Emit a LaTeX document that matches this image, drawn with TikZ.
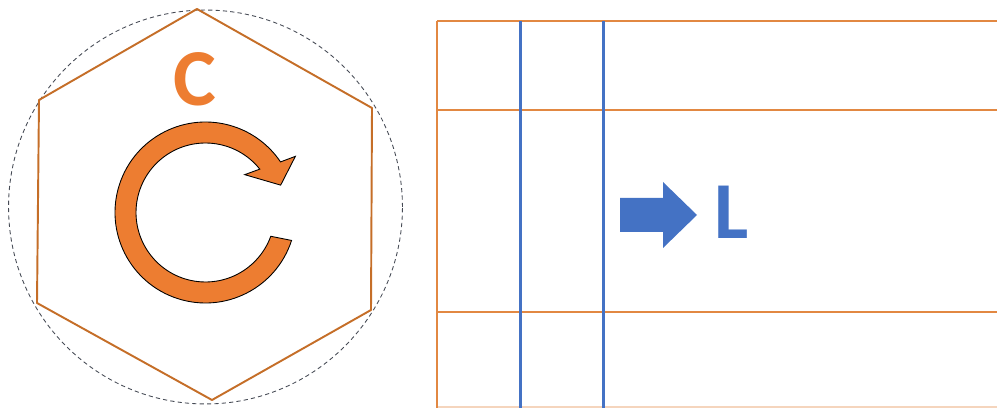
\documentclass[tikz,border=0pt]{standalone}
\usepackage{fontspec}
\setmainfont{Carlito}
\usepackage{xcolor}
\usetikzlibrary{calc}
\definecolor{hexorange}{RGB}{197,110,40}
\definecolor{gridorange}{RGB}{226,136,66}
\definecolor{cycorange}{RGB}{237,125,49}
\definecolor{gridblue}{RGB}{68,114,196}
\definecolor{ringgray}{RGB}{70,75,85}

\begin{document}
\begin{tikzpicture}[
  x=0.02cm, y=-0.02cm,
  hexline/.style={draw=hexorange, line width=1.1pt, line join=round},
  rowline/.style={draw=gridorange, line width=1.2pt},
  colline/.style={draw=gridblue, line width=1.2pt},
  ring/.style={draw=ringgray, line width=0.5pt, dash pattern=on 2.4pt off 1.8pt},
  letter/.style={font=\bfseries\fontsize{46}{46}\selectfont, inner sep=0pt}
]
\useasboundingbox (0,0) rectangle (997,408);
% left: hexagon in dashed circle
\coordinate (mid) at (205.5,207);
\draw[ring] (mid) circle[radius=3.94cm];
\draw[hexline] (197,9) -- (372,108) -- (371,310) -- (212,400) -- (37,303) -- (39,100) -- cycle;
\node[letter, text=cycorange] (clab) at (195,79) {C};
\coordinate (cyc) at (205.5,212.5);
\filldraw[fill=cycorange, draw=black, line width=0.5pt]
  ($(cyc)+(-18:1.81cm)$) arc[start angle=-18, end angle=-326, radius=1.81cm]
  -- ($(cyc)+(32:2.12cm)$) -- ($(cyc)+(20:1.6cm)$) -- ($(cyc)+(44:1.09cm)$)
  -- ($(cyc)+(38.6:1.39cm)$) arc[start angle=38.6, end angle=340, radius=1.39cm]
  -- cycle;
% right: grid
\draw[rowline] (437,21) -- (997,21);
\draw[rowline] (437,110) -- (997,110);
\draw[rowline] (437,312) -- (997,312);
\draw[rowline, draw=gridorange!35] (437,407) -- (997,407);
\draw[rowline] (437,21) -- (437,408);
\draw[colline] (520.5,21) -- (520.5,408);
\draw[colline] (603.5,21) -- (603.5,408);
\fill[gridblue] (620,198) -- (663,198) -- (663,182) -- (697,215) -- (663,248) -- (663,232) -- (620,232) -- cycle;
\node[letter, text=gridblue] (llab) at (732,212) {L};
\end{tikzpicture}
\end{document}
